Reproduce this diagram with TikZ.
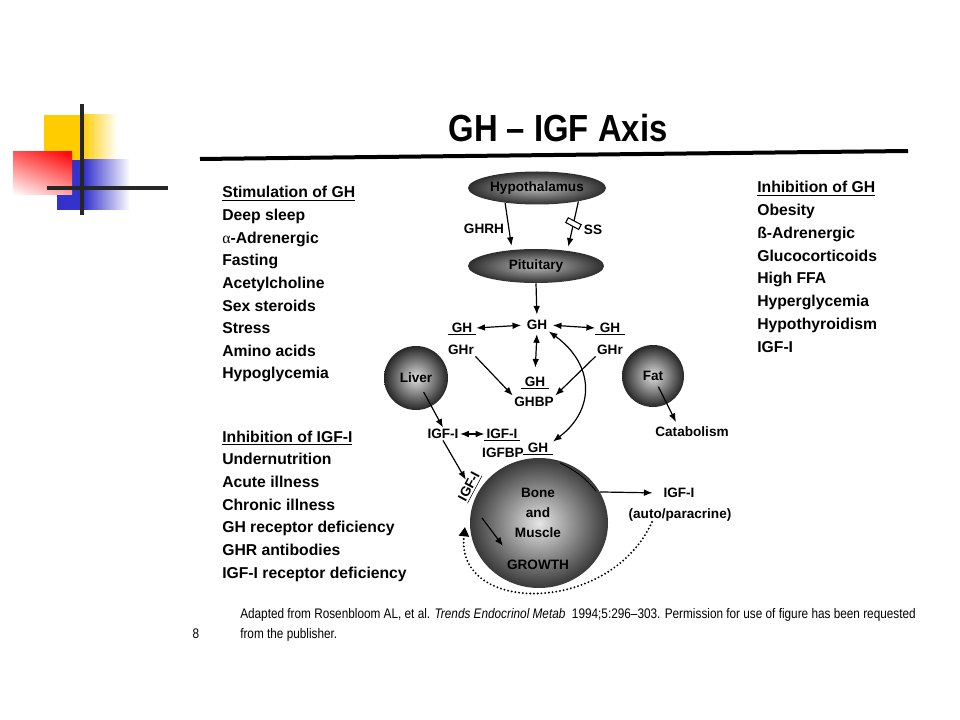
\documentclass[tikz,border=0pt]{standalone}
\usepackage{fontspec}
\setmainfont{Liberation Sans}
\newfontfamily\titlefont[FakeStretch=0.87]{Liberation Sans}
\newfontfamily\notefont[FakeStretch=0.85]{Liberation Sans}
\newfontfamily\serifgreek{Liberation Serif}
\usetikzlibrary{shapes.geometric,arrows.meta,calc,shadings}
\definecolor{yellowc}{HTML}{FFCC00}
\definecolor{bluec}{HTML}{3333CC}
\begin{document}
\begin{tikzpicture}[x=0.75pt,y=-0.75pt,
  lst/.style={anchor=base west, inner sep=0pt, font=\fontsize{11.8}{14}\selectfont\bfseries},
  lbl/.style={inner sep=1pt, font=\fontsize{10.2}{12}\selectfont\bfseries},
  arr/.style={-{Latex[length=6.5pt,width=5pt]}, line width=0.9pt},
  dbl/.style={{Latex[length=6.5pt,width=5pt]}-{Latex[length=6.5pt,width=5pt]}, line width=0.9pt},
  uline/.style={line width=0.8pt},
  organ/.style={ellipse, inner sep=0pt, font=\fontsize{10.2}{12}\selectfont\bfseries},
  blocker/.style={draw, fill=white, rectangle, inner sep=0pt, minimum width=11pt, minimum height=4pt, line width=0.8pt, rotate=-28},
  deco/.style={line width=2.3pt, draw=black!85}
]
\useasboundingbox (0,0) rectangle (960,720);
\fill[white] (0,0) rectangle (960,720);

% corner decoration
\fill[yellowc] (44,115) rectangle (82,160);
\shade[left color=yellowc, right color=white] (82,115) rectangle (117,160);
\fill[bluec] (57,160) rectangle (84,210);
\shade[left color=bluec, right color=white] (84,160) rectangle (130,210);
\shade[upper left=red!65, upper right=red, lower left=white, lower right=red!35] (13,152) rectangle (72,195);
\coordinate (vtop) at (82,104); \coordinate (vbot) at (82,215);
\coordinate (hl) at (47,188); \coordinate (hr) at (168,188);
\draw[deco] (vtop) -- (vbot);
\draw[deco] (hl) -- (hr);

% title
\node[anchor=base, inner sep=0pt] (title) at (558,142) {\titlefont\bfseries\fontsize{28.3}{30}\selectfont GH – IGF Axis};
\coordinate (rulel) at (200,159); \coordinate (ruler) at (908,151);
\draw[line width=3pt] (rulel) -- (ruler);

% left list: stimulation
\node[lst] (s0) at (222,198) {\underline{Stimulation of GH}};
\node[lst] (s1) at (222,220.6) {Deep sleep};
\node[lst] (s2) at (222,243.2) {{\serifgreek\mdseries α}-Adrenergic};
\node[lst] (s3) at (222,265.8) {Fasting};
\node[lst] (s4) at (222,288.4) {Acetylcholine};
\node[lst] (s5) at (222,311) {Sex steroids};
\node[lst] (s6) at (222,333.6) {Stress};
\node[lst] (s7) at (222,356.2) {Amino acids};
\node[lst] (s8) at (222,378.8) {Hypoglycemia};

% left list: inhibition of IGF-I
\node[lst] (i0) at (222,442) {\underline{Inhibition of IGF-I}};
\node[lst] (i1) at (222,464.7) {Undernutrition};
\node[lst] (i2) at (222,487.4) {Acute illness};
\node[lst] (i3) at (222,510.1) {Chronic illness};
\node[lst] (i4) at (222,532.8) {GH receptor deficiency};
\node[lst] (i5) at (222,555.5) {GHR antibodies};
\node[lst] (i6) at (222,578.2) {IGF-I receptor deficiency};

% right list
\node[lst] (r0) at (757,193) {\underline{Inhibition of GH}};
\node[lst] (r1) at (757,215.7) {Obesity};
\node[lst] (r2) at (757,238.4) {ß-Adrenergic};
\node[lst] (r3) at (757,261.1) {Glucocorticoids};
\node[lst] (r4) at (757,283.8) {High FFA};
\node[lst] (r5) at (757,306.5) {Hyperglycemia};
\node[lst] (r6) at (757,329.2) {Hypothyroidism};
\node[lst] (r7) at (757,352) {IGF-I};

% organs
\node[organ, minimum width=103.5pt, minimum height=24.75pt, inner color=gray!55, outer color=black!82] (hyp) at (537,188) {Hypothalamus};
\node[organ, minimum width=102pt, minimum height=25.5pt, inner color=gray!55, outer color=black!82] (pit) at (536,266) {Pituitary};
\node[organ, minimum width=48pt, minimum height=48pt, inner color=gray!25, outer color=black!85] (liver) at (416,378) {Liver};
\node[organ, minimum width=46.5pt, minimum height=46.5pt, inner color=gray!25, outer color=black!85] (fat) at (653,376) {Fat};
\node[organ, minimum width=103.5pt, minimum height=97.5pt, inner color=gray!20, outer color=black!78] (bone) at (539,523) {};
\node[lbl, align=center, text=black, font=\fontsize{10.2}{15}\selectfont\bfseries] (bonetxt) at (538,513) {Bone\\and\\Muscle};
\node[lbl, text=black] (growth) at (538,565) {GROWTH};

% hypothalamus-pituitary
\node[lbl] (ghrh) at (484,229) {GHRH};
\node[lbl] (ss) at (593,230) {SS};
\draw[arr, shorten >=3pt] (hyp.205) -- (pit.146);
\draw[arr, shorten >=3pt] (hyp.342) -- node[blocker, pos=.45] (ssblock) {} (pit.26);

% GH and receptors
\node[lbl] (gh) at (537,325) {GH};
\node[lbl, minimum width=21pt] (ghLt) at (462,328) {GH};
\node[lbl] (ghLb) at (461,350) {GHr};
\node[lbl, minimum width=22pt] (ghRt) at (610,328) {GH};
\node[lbl] (ghRb) at (610,350) {GHr};
\node[lbl, minimum width=20pt] (ghbpT) at (535,382) {GH};
\node[lbl] (ghbpB) at (534,402) {GHBP};
\draw[uline] (ghLt.south west) -- (ghLt.south east);
\draw[uline] (ghRt.south west) -- (ghRt.south east);
\draw[uline] (ghbpT.south west) -- (ghbpT.south east);

\draw[arr, shorten >=3pt] (pit.south) -- (gh.north);
\draw[dbl, shorten >=3pt] (ghLt.east) -- (gh.west);
\draw[dbl, shorten <=3pt] (gh.east) -- (ghRt.west);
\draw[dbl, shorten <=2pt, shorten >=6pt] (gh.south) -- (ghbpT.north);
\draw[arr] (ghLb.south east) -- (ghbpB.north west);
\draw[arr] (ghRb.south west) -- (ghbpB.north east);

% IGF-I
\node[lbl] (igf) at (443,434) {IGF-I};
\node[lbl, minimum width=26pt] (igfbpT) at (502,434) {IGF-I};
\node[lbl] (igfbpB) at (503,453) {IGFBP};
\node[lbl, minimum width=22pt] (ghcT) at (538,448) {GH};
\draw[uline] (igfbpT.south west) -- (igfbpT.south east);
\draw[uline] (ghcT.south west) -- (ghcT.south east);
\draw[dbl] (igf.east) -- (igfbpT.west);
\draw[arr, shorten <=12pt] (liver.center) -- (igf.north);
\draw[dbl] (gh.south east) .. controls (595,365) and (595,410) .. (ghcT.north east);

% fat
\node[lbl] (catab) at (692,432) {Catabolism};
\coordinate (catabin) at (676,422);
\draw[arr, shorten <=9pt] (fat.center) -- (catabin);

% bone and muscle
\node[lbl, rotate=62, inner sep=0.5pt] (igfrot) at (470,487) {\underline{IGF-I}};
\draw[arr] (igf.south) -- (igfrot);
\coordinate (ba1) at (482,518); \coordinate (ba2) at (503,546);
\draw[arr] (ba1) -- (ba2);
\coordinate (arcA) at (560,463); \coordinate (arcB) at (596,491);
\draw[line width=0.6pt] (arcA) to[bend left=12] (arcB);

\node[lbl] (igfaT) at (679,493) {IGF-I};
\node[lbl] (igfaB) at (680,515) {(auto/paracrine)};
\draw[arr, shorten >=7pt] (bone.27) -- (igfaT.west);
\coordinate (dotS) at (652,522);
\coordinate (dotE) at (465,527);
\draw[line width=1.6pt, dash pattern=on 0pt off 2.8pt, line cap=round, -{Triangle[length=7pt,width=7.5pt]}] (dotS) .. controls (610,615) and (455,615) .. (dotE);

% footnote
\node[anchor=base west, inner sep=0pt] (note1) at (240,618) {\notefont\fontsize{10.4}{12}\selectfont Adapted from Rosenbloom AL, et al. \textit{Trends Endocrinol Metab}\ \ 1994;5:296–303. Permission for use of figure has been requested};
\node[anchor=base west, inner sep=0pt] (note2) at (240,638) {\notefont\fontsize{10.4}{12}\selectfont from the publisher.};
\node[anchor=base, inner sep=0pt] (pnum) at (196,638) {\notefont\fontsize{10.4}{12}\selectfont 8};
\end{tikzpicture}
\end{document}
